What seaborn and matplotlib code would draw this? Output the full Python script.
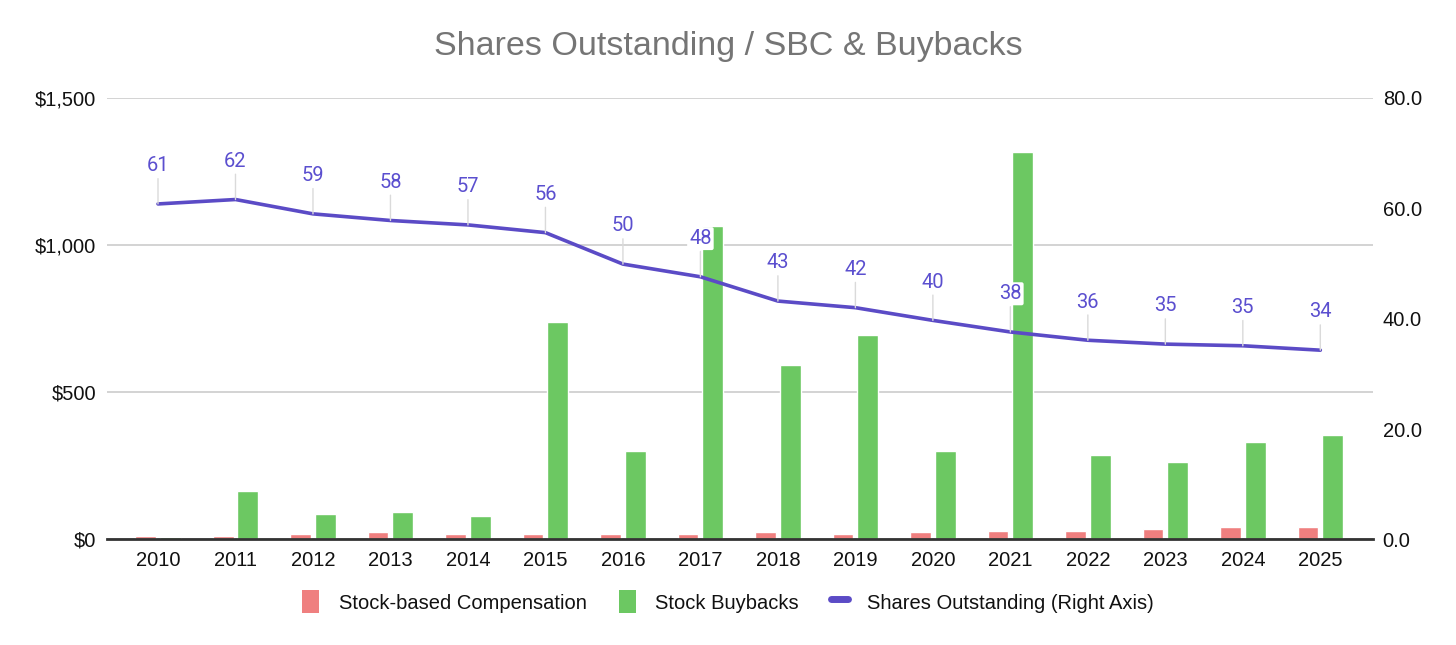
import numpy as np
import pandas as pd
import matplotlib
matplotlib.use("Agg")
import matplotlib.pyplot as plt
import seaborn as sns
from matplotlib.patches import Patch
from matplotlib.lines import Line2D
from matplotlib.ticker import FuncFormatter

# ---- data ----
years = ["2010", "2011", "2012", "2013", "2014", "2015", "2016", "2017",
         "2018", "2019", "2020", "2021", "2022", "2023", "2024", "2025"]
sbc = [12, 11, 17, 24, 17, 17, 17, 17, 24, 17, 24, 29, 29, 35, 41, 41]
buybacks = [7, 164, 87, 95, 80, 738, 300, 1065, 592, 696, 300, 1317, 288, 264, 330, 354]
shares = [60.8, 61.6, 59.0, 57.8, 57.0, 55.6, 49.9, 47.6, 43.2, 42.0,
          39.7, 37.6, 36.1, 35.4, 35.1, 34.3]

RED = "#ef7f7f"
GREEN = "#6cc862"
PURPLE = "#5b4bc6"
LABEL = "#5b4fcf"

sns.set_theme(style="white")
plt.rcParams["font.family"] = ["Liberation Sans", "DejaVu Sans"]

df = pd.DataFrame({
    "year": years * 2,
    "value": sbc + buybacks,
    "series": ["Stock-based Compensation"] * len(years) + ["Stock Buybacks"] * len(years),
})

fig = plt.figure(figsize=(14.56, 6.45), dpi=100)
ax = fig.add_axes([0.0735, 0.1636, 0.8695, 0.6845])

sns.barplot(data=df, x="year", y="value", hue="series", order=years,
            hue_order=["Stock-based Compensation", "Stock Buybacks"],
            palette=[RED, GREEN], width=0.64, gap=0.16, ax=ax,
            legend=False, saturation=1, zorder=2)

ax.set_xlim(-0.658, 15.68)
ax.set_ylim(0, 1500)
ax.set_yticks([0, 500, 1000, 1500])
ax.yaxis.set_major_formatter(FuncFormatter(lambda v, p: f"${v:,.0f}"))
ax.grid(axis="y", color="#cccccc", lw=1.2, zorder=0)
ax.grid(axis="x", visible=False)
for s in ["top", "right", "left"]:
    ax.spines[s].set_visible(False)
ax.spines["bottom"].set_color("#333333")
ax.spines["bottom"].set_linewidth(2)
ax.spines["bottom"].set_zorder(5)
ax.set_xlabel("")
ax.set_ylabel("")
ax.tick_params(axis="y", length=0, pad=8, labelsize=14.5, labelcolor="#111111")
ax.tick_params(axis="x", length=0, pad=8, labelsize=14.5, labelcolor="#111111")
ax.set_axisbelow(True)

ax2 = ax.twinx()
xs = np.arange(len(years))
sns.lineplot(x=xs, y=shares, ax=ax2, color=PURPLE, lw=2.6, zorder=3)
ax2.set_ylim(0, 80)
ax2.set_yticks([0, 20, 40, 60, 80])
ax2.yaxis.set_major_formatter(FuncFormatter(lambda v, p: f"{v:.1f}"))
ax2.tick_params(axis="y", length=0, pad=7, labelsize=14.5, labelcolor="#111111")
ax2.grid(False)
for s in ["top", "right", "left", "bottom"]:
    ax2.spines[s].set_visible(False)
ax2.set_xlim(ax.get_xlim())

for x, v in zip(xs, shares):
    ax2.annotate(f"{v:.0f}", xy=(x, v), xytext=(0, 27.5), textcoords="offset points",
                 ha="center", va="center", fontsize=14.5, color=LABEL, zorder=6,
                 family=["Roboto", "DejaVu Sans"],
                 bbox=dict(boxstyle="round,pad=0.1", fc="white", ec="none"),
                 arrowprops=dict(arrowstyle="-", color="#dadada", lw=1,
                                 shrinkA=1, shrinkB=0))

fig.text(0.5, 0.928, "Shares Outstanding / SBC & Buybacks", ha="center", va="center",
         fontsize=24.5, color="#757575")

handles = [Patch(facecolor=RED, edgecolor="none"),
           Patch(facecolor=GREEN, edgecolor="none"),
           Line2D([0], [0], color=PURPLE, lw=5)]
labels = ["Stock-based Compensation", "Stock Buybacks", "Shares Outstanding (Right Axis)"]
fig.legend(handles, labels, loc="center", bbox_to_anchor=(0.5, 0.067), ncol=3,
           frameon=False, fontsize=14.5, handlelength=0.85, handleheight=1.35,
           handletextpad=0.95, columnspacing=1.6, labelcolor="#111111")

fig.savefig("out.png", dpi=100)
